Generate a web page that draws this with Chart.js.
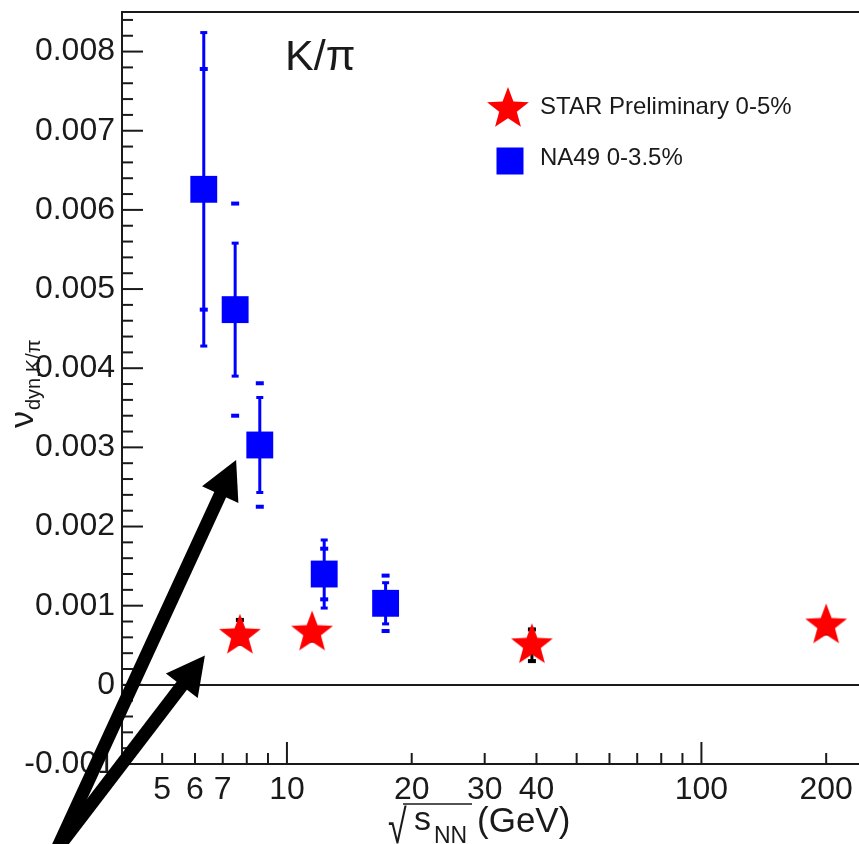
<!DOCTYPE html>
<html>
<head>
<meta charset="utf-8">
<script src="https://cdn.jsdelivr.net/npm/chart.js@4.4.1/dist/chart.umd.min.js"></script>
<style>
  html, body { margin: 0; padding: 0; background: #fff; overflow: hidden; }
  #wrap { width: 859px; height: 844px; }
</style>
</head>
<body>
<div id="wrap"><canvas id="kpi"></canvas></div>
<script>
// STAR Preliminary 0-5%
const starEnergies = [7.7, 11.5, 39, 200];
const starValues = [0.00062, 0.00066, 0.0005, 0.00075];
const starErrUp = [0.0002, 0.0001, 0.0002, 0.0001];
const starErrDown = [0.0001, 0.0001, 0.0002, 0.0001];

// NA49 0-3.5%
const na49Energies = [6.3, 7.5, 8.6, 12.3, 17.3];
const na49Values = [0.00626, 0.00474, 0.00303, 0.0014, 0.00103];
const na49Stat = [0.00198, 0.00084, 0.0006, 0.00043, 0.00026];
const na49Sys = [0.00152, 0.00134, 0.00078, 0.00032, 0.00035];

const xTicks = [5, 6, 7, 8, 9, 10, 20, 30, 40, 50, 60, 70, 80, 90, 100, 200];
const xTickLabels = [5, 6, 7, 10, 20, 30, 40, 100, 200];
const xMajorTicks = [10, 100];
const yTicks = [-0.001, 0, 0.001, 0.002, 0.003, 0.004, 0.005, 0.006, 0.007, 0.008];

// the two black arrows drawn over the plot (data coords)
const arrowTail = [2.79, -0.00207];
const arrowTips = [[7.54, 0.00284], [6.34, 0.00037]];

const FONT = '"Liberation Sans", Arial, Helvetica, sans-serif';
const INK = '#1a1a1a';

function makeStar(r, color) {
    const size = Math.ceil(r * 2 + 2);
    const c = document.createElement('canvas');
    c.width = size;
    c.height = size;
    const g = c.getContext('2d');
    g.fillStyle = color;
    g.beginPath();
    for (let i = 0; i < 10; i++) {
        const rad = i % 2 === 0 ? r : r * 0.42;
        const a = -Math.PI / 2 + i * Math.PI / 5;
        const px = size / 2 + rad * Math.cos(a);
        const py = size / 2 + rad * Math.sin(a);
        if (i === 0) g.moveTo(px, py); else g.lineTo(px, py);
    }
    g.closePath();
    g.fill();
    return c;
}
const starImg = makeStar(22, '#ff0000');

function drawArrow(ctx, x0, y0, x1, y1) {
    const ang = Math.atan2(y1 - y0, x1 - x0);
    const headLen = 38, headW = 20;
    const bx = x1 - headLen * Math.cos(ang);
    const by = y1 - headLen * Math.sin(ang);
    ctx.lineWidth = 13;
    ctx.beginPath();
    ctx.moveTo(x0, y0);
    ctx.lineTo(bx + 4 * Math.cos(ang), by + 4 * Math.sin(ang));
    ctx.stroke();
    ctx.beginPath();
    ctx.moveTo(x1, y1);
    ctx.lineTo(bx + headW * Math.sin(ang), by - headW * Math.cos(ang));
    ctx.lineTo(bx - headW * Math.sin(ang), by + headW * Math.cos(ang));
    ctx.closePath();
    ctx.fill();
}

const errorBars = {
    id: 'errorBars',
    beforeDatasetsDraw(chart) {
        const {ctx, scales: {x, y}} = chart;
        ctx.save();
        // STAR errors, mostly hidden behind the stars
        ctx.strokeStyle = '#000';
        ctx.fillStyle = '#000';
        ctx.lineWidth = 3;
        starEnergies.forEach((e, i) => {
            const px = x.getPixelForValue(e);
            const hi = y.getPixelForValue(starValues[i] + starErrUp[i]);
            const lo = y.getPixelForValue(starValues[i] - starErrDown[i]);
            ctx.beginPath();
            ctx.moveTo(px, hi);
            ctx.lineTo(px, lo);
            ctx.stroke();
            ctx.fillRect(px - 4, hi - 2, 8, 4);
            ctx.fillRect(px - 4, lo - 2, 8, 4);
        });
        // NA49 stat (line with caps) and sys (small dashes)
        ctx.strokeStyle = '#0000ff';
        ctx.fillStyle = '#0000ff';
        na49Energies.forEach((e, i) => {
            const px = x.getPixelForValue(e);
            const hi = y.getPixelForValue(na49Values[i] + na49Stat[i]);
            const lo = y.getPixelForValue(na49Values[i] - na49Stat[i]);
            ctx.lineWidth = 3;
            ctx.beginPath();
            ctx.moveTo(px, hi);
            ctx.lineTo(px, lo);
            ctx.stroke();
            ctx.fillRect(px - 3.5, hi - 1.5, 7, 3);
            ctx.fillRect(px - 3.5, lo - 1.5, 7, 3);
            const shi = y.getPixelForValue(na49Values[i] + na49Sys[i]);
            const slo = y.getPixelForValue(na49Values[i] - na49Sys[i]);
            ctx.fillRect(px - 4, shi - 2, 8, 4);
            ctx.fillRect(px - 4, slo - 2, 8, 4);
        });
        ctx.restore();
    }
};

const decorations = {
    id: 'decorations',
    afterDraw(chart) {
        const {ctx, chartArea: area, scales: {x, y}} = chart;
        ctx.save();
        ctx.strokeStyle = INK;
        ctx.lineWidth = 2;

        // top frame line
        ctx.beginPath();
        ctx.moveTo(area.left, area.top);
        ctx.lineTo(area.right, area.top);
        ctx.stroke();

        // inward y ticks, 5 subdivisions
        for (let i = 0; i <= 47; i++) {
            const v = -0.001 + i * 0.0002;
            const py = y.getPixelForValue(v);
            const len = i % 5 === 0 ? 21 : 11;
            ctx.beginPath();
            ctx.moveTo(area.left, py);
            ctx.lineTo(area.left + len, py);
            ctx.stroke();
        }
        // inward x ticks
        xTicks.forEach(v => {
            const px = x.getPixelForValue(v);
            const len = xMajorTicks.includes(v) ? 22 : 11;
            ctx.beginPath();
            ctx.moveTo(px, area.bottom);
            ctx.lineTo(px, area.bottom - len);
            ctx.stroke();
        });

        // title
        ctx.fillStyle = INK;
        ctx.textAlign = 'left';
        ctx.textBaseline = 'alphabetic';
        ctx.font = '43px ' + FONT;
        ctx.fillText('K/\u03C0', area.left + 163, area.top + 58);

        // legend
        const lx = area.left + 386;
        ctx.drawImage(starImg, lx - starImg.width / 2, area.top + 97 - starImg.height / 2);
        ctx.fillStyle = '#0000ff';
        ctx.fillRect(lx + 2 - 13.5, area.top + 149 - 13.5, 27, 27);
        ctx.fillStyle = INK;
        ctx.font = '24px ' + FONT;
        ctx.textBaseline = 'middle';
        ctx.fillText('STAR Preliminary 0-5%', area.left + 418, area.top + 95);
        ctx.fillText('NA49 0-3.5%', area.left + 418, area.top + 146);

        // y axis title: nu_{dyn,K/pi}
        ctx.save();
        ctx.translate(33, 428);
        ctx.rotate(-Math.PI / 2);
        ctx.textBaseline = 'alphabetic';
        ctx.font = '34px ' + FONT;
        ctx.fillText('\u03BD', 0, 0);
        const nuW = ctx.measureText('\u03BD').width;
        ctx.font = '20px ' + FONT;
        ctx.fillText('dyn,K/\u03C0', nuW + 1, 7);
        ctx.restore();

        // x axis title: sqrt(s_NN) (GeV)
        ctx.textBaseline = 'alphabetic';
        ctx.save();
        ctx.translate(388, 843);
        ctx.scale(1, 1.4);
        ctx.font = '34px ' + FONT;
        ctx.fillText('\u221A', 0, 0);
        ctx.restore();
        ctx.font = '34px ' + FONT;
        ctx.fillText('s', 414, 830);
        ctx.font = '23px ' + FONT;
        ctx.fillText('NN', 434, 843);
        ctx.font = '35px ' + FONT;
        ctx.fillText('(GeV)', 477, 832);
        ctx.lineWidth = 1.5;
        ctx.beginPath();
        ctx.moveTo(403, 804);
        ctx.lineTo(472, 804);
        ctx.stroke();

        // arrows
        ctx.fillStyle = '#000';
        ctx.strokeStyle = '#000';
        const tx = x.getPixelForValue(arrowTail[0]);
        const ty = y.getPixelForValue(arrowTail[1]);
        arrowTips.forEach(t => {
            drawArrow(ctx, tx, ty, x.getPixelForValue(t[0]), y.getPixelForValue(t[1]));
        });
        ctx.restore();
    }
};

const ctx = document.getElementById('kpi').getContext('2d');
new Chart(ctx, {
    type: 'scatter',
    data: {
        datasets: [{
            label: 'STAR Preliminary 0-5%',
            data: starEnergies.map((e, i) => ({x: e, y: starValues[i]})),
            pointStyle: starImg,
            pointRadius: 20,
            backgroundColor: '#ff0000',
            borderWidth: 0,
            clip: false
        }, {
            label: 'NA49 0-3.5%',
            data: na49Energies.map((e, i) => ({x: e, y: na49Values[i]})),
            pointStyle: 'rect',
            pointRadius: 19,
            backgroundColor: '#0000ff',
            borderColor: '#0000ff',
            borderWidth: 0,
            clip: false
        }]
    },
    options: {
        responsive: true,
        maintainAspectRatio: false,
        animation: false,
        events: [],
        layout: { autoPadding: false, padding: { top: 12, right: 0, left: 0, bottom: 0 } },
        plugins: {
            legend: { display: false },
            tooltip: { enabled: false }
        },
        scales: {
            x: {
                type: 'logarithmic',
                min: 4,
                max: 240,
                afterFit: s => { s.height = 80; s.paddingLeft = 0; s.paddingRight = 0; },
                afterBuildTicks: s => { s.ticks = xTicks.map(v => ({value: v})); },
                grid: { display: false, drawTicks: false },
                border: { display: true, color: INK, width: 2 },
                ticks: {
                    autoSkip: false,
                    maxRotation: 0,
                    padding: 7,
                    color: INK,
                    font: { family: FONT, size: 32 },
                    callback: v => xTickLabels.includes(v) ? String(v) : ''
                }
            },
            y: {
                type: 'linear',
                min: -0.001,
                max: 0.0085,
                afterFit: s => { s.width = 122; s.paddingTop = 0; s.paddingBottom = 0; },
                afterBuildTicks: s => { s.ticks = yTicks.map(v => ({value: v})); },
                grid: {
                    drawTicks: false,
                    lineWidth: 2,
                    color: c => (c.tick && c.tick.value === 0) ? INK : 'rgba(0,0,0,0)'
                },
                border: { display: true, color: INK, width: 2 },
                ticks: {
                    padding: 7,
                    color: INK,
                    font: { family: FONT, size: 32 },
                    callback: v => v === 0 ? '0' : v.toFixed(3)
                }
            }
        }
    },
    plugins: [errorBars, decorations]
});
</script>
</body>
</html>
